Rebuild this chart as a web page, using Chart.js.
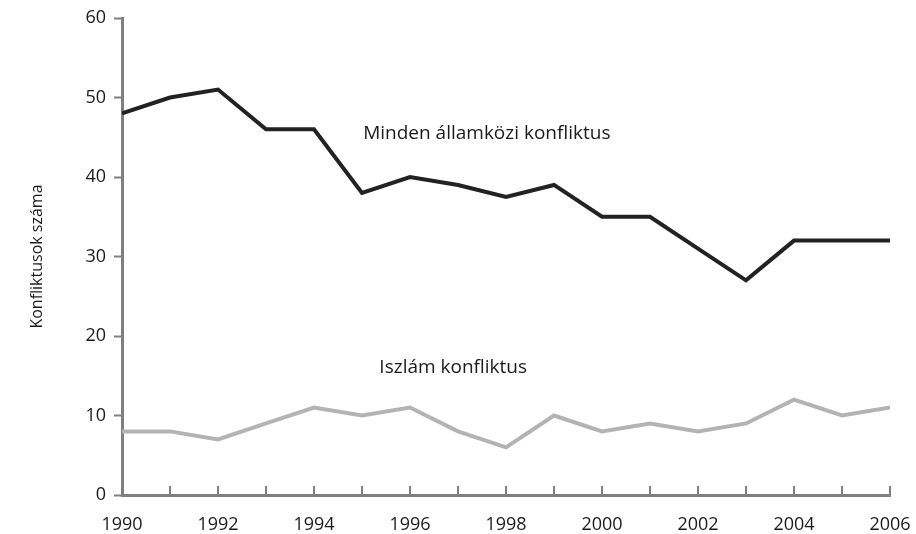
<!DOCTYPE html>
<html>
<head>
<meta charset="utf-8">
<script src="https://cdn.jsdelivr.net/npm/chart.js@4/dist/chart.umd.min.js"></script>
<style>
html,body{margin:0;padding:0;background:#fff;}
#wrap{width:916px;height:534px;position:relative;}
</style>
</head>
<body>
<div id="wrap"><canvas id="c" width="916" height="534"></canvas></div>
<script>
const years = [1990,1991,1992,1993,1994,1995,1996,1997,1998,1999,2000,2001,2002,2003,2004,2005,2006];
const allConflicts = [48,50,51,46,46,38,40,39,37.5,39,35,35,31,27,32,32,32];
const islamConflicts = [8,8,7,9,11,10,11,8,6,10,8,9,8,9,12,10,11];
const yTicks = [0,10,20,30,40,50,60];
const xLabelYears = [1990,1992,1994,1996,1998,2000,2002,2004,2006];
const seriesNames = ['Minden államközi konfliktus','Iszlám konfliktus'];
const yTitle = 'Konfliktusok száma';
const labelAnchors = [{x:1997.6,y:45.5},{x:1996.9,y:16.0}];

const FONT = "'Open Sans', 'DejaVu Sans', sans-serif";
const AXIS = '#7f7f7f';

const annot = {
  id:'annot',
  afterDraw(chart){
    const {ctx, scales:{x,y}, chartArea} = chart;
    ctx.save();
    ctx.strokeStyle = AXIS; ctx.lineWidth = 2;
    years.forEach(v=>{
      const px = Math.round(x.getPixelForValue(v));
      ctx.beginPath(); ctx.moveTo(px, chartArea.bottom); ctx.lineTo(px, chartArea.bottom-9); ctx.stroke();
    });
    ctx.fillStyle = '#1a1a1a';
    ctx.font = "19px " + FONT;
    ctx.textAlign = 'center'; ctx.textBaseline = 'middle';
    seriesNames.forEach((n,i)=>{
      ctx.fillText(n, x.getPixelForValue(labelAnchors[i].x), y.getPixelForValue(labelAnchors[i].y));
    });
    ctx.restore();
  }
};

new Chart(document.getElementById('c'), {
  type:'line',
  data:{
    datasets:[
      {label:seriesNames[0], data: years.map((v,i)=>({x:v,y:allConflicts[i]})), borderColor:'#222222', borderWidth:4, pointRadius:0, tension:0, borderJoinStyle:'miter'},
      {label:seriesNames[1], data: years.map((v,i)=>({x:v,y:islamConflicts[i]})), borderColor:'#b3b3b3', borderWidth:4, pointRadius:0, tension:0, borderJoinStyle:'miter'}
    ]
  },
  options:{
    responsive:false, animation:false,
    layout:{padding:{top:18,right:26,left:28,bottom:0}},
    plugins:{legend:{display:false}, tooltip:{enabled:false}},
    scales:{
      x:{
        type:'linear', min:1990, max:2006,
        border:{display:true, color:AXIS, width:3},
        grid:{display:true, drawOnChartArea:false, drawTicks:false},
        ticks:{stepSize:1, autoSkip:false, maxRotation:0, padding:19, color:'#1a1a1a', font:{family:FONT, size:18},
          callback:(v)=> xLabelYears.includes(v) ? String(v) : ''},
        afterFit(s){ s.height = 39; s.paddingLeft = 0; s.paddingRight = 0; }
      },
      y:{
        min:0, max:60,
        border:{display:true, color:AXIS, width:3},
        grid:{drawOnChartArea:false, drawTicks:true, tickLength:8, tickColor:AXIS, tickWidth:2},
        afterBuildTicks(s){ s.ticks = yTicks.map(v=>({value:v})); },
        ticks:{padding:8, color:'#1a1a1a', font:{family:FONT, size:18}},
        title:{display:true, text:yTitle, color:'#1a1a1a', font:{family:FONT, size:16}, padding:{top:0,bottom:0}},
        afterFit(s){ s.width = 94; s.paddingTop = 0; s.paddingBottom = 0; }
      }
    }
  },
  plugins:[annot]
});
</script>
</body>
</html>
